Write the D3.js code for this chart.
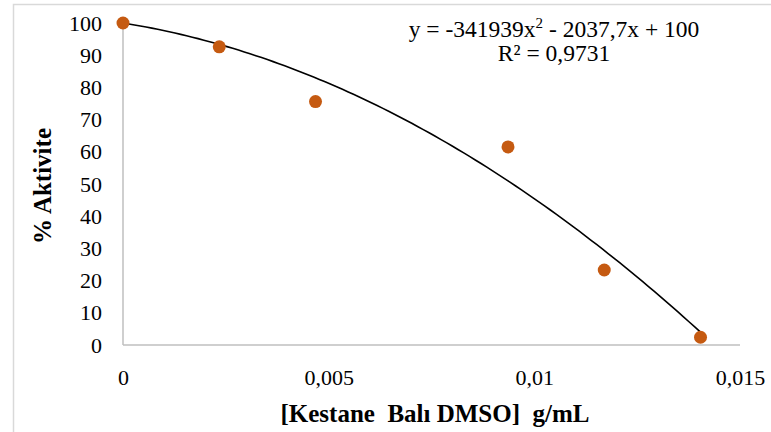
<!DOCTYPE html>
<html>
<head>
<meta charset="utf-8">
<script src="https://cdn.jsdelivr.net/npm/d3@7"></script>
<style>
  html, body { margin: 0; padding: 0; background: #fff; }
  svg { display: block; }
</style>
</head>
<body>
<svg id="chart" width="771" height="432"></svg>
<script>
// Data
const concentrations = [0, 0.00234, 0.00468, 0.00936, 0.0117, 0.01404];
const activity = [100, 92.6, 75.6, 61.5, 23.3, 2.4];
const xTicks = [0, 0.005, 0.01, 0.015];
const xTickLabels = ["0", "0,005", "0,01", "0,015"];
const yTicks = [0, 10, 20, 30, 40, 50, 60, 70, 80, 90, 100];
// Trendline (polynomial, order 2) coefficients shown on the chart: a2, a1, a0
const trendCoefs = [-341939, -2037.7, 100];
const xTitle = "[Kestane\u00A0 Balı DMSO]\u00A0 g/mL";
const yTitle = "% Aktivite";

const FONT = '"Liberation Serif", Tinos, "Times New Roman", "Nimbus Roman", FreeSerif, "DejaVu Serif", serif';

const svg = d3.select("#chart");
const W = 771, H = 432;

// outer chart border (light gray)
svg.append("path")
  .attr("d", `M13.5,${H} L13.5,4.5 L${W},4.5`)
  .attr("fill", "none").attr("stroke", "#d9d9d9").attr("stroke-width", 1.5);

const x = d3.scaleLinear().domain([0, 0.015]).range([123, 740]);
const y = d3.scaleLinear().domain([0, 100]).range([345, 23]);

// axes lines
svg.append("line").attr("x1", x(0)).attr("x2", x(0.015)).attr("y1", y(0)).attr("y2", y(0))
  .attr("stroke", "#bfbfbf").attr("stroke-width", 1.5);
svg.append("line").attr("x1", x(0)).attr("x2", x(0)).attr("y1", y(0)).attr("y2", y(100))
  .attr("stroke", "#bfbfbf").attr("stroke-width", 1.5);

// Y axis labels
const yAxis = d3.axisLeft(y).tickValues(yTicks).tickSize(0).tickPadding(21).tickFormat(d3.format("d"));
const gy = svg.append("g").attr("transform", `translate(${x(0)},0)`).call(yAxis);
gy.attr("font-family", null).attr("font-size", null);
gy.select(".domain").remove();
gy.selectAll("text").attr("font-family", FONT).attr("font-size", 22).attr("fill", "#000");

// X axis labels
const xAxis = d3.axisBottom(x).tickValues(xTicks).tickSize(0).tickPadding(24)
  .tickFormat((d, i) => xTickLabels[i]);
const gx = svg.append("g").attr("transform", `translate(0,${y(0)})`).call(xAxis);
gx.attr("font-family", null).attr("font-size", null);
gx.select(".domain").remove();
gx.selectAll("text").attr("font-family", FONT).attr("font-size", 22).attr("fill", "#000");

// Trendline
const xMax = d3.max(concentrations);
const trendX = d3.range(0, 101).map(i => xMax * i / 100);
const trendData = trendX.map(v => [v, trendCoefs[0] * v * v + trendCoefs[1] * v + trendCoefs[2]]);
svg.append("path").datum(trendData)
  .attr("d", d3.line().x(d => x(d[0])).y(d => y(d[1])))
  .attr("fill", "none").attr("stroke", "#000").attr("stroke-width", 1.6);

// Points
svg.selectAll("circle.pt").data(concentrations).join("circle")
  .attr("class", "pt")
  .attr("cx", d => x(d))
  .attr("cy", (d, i) => y(activity[i]))
  .attr("r", 6.5)
  .attr("fill", "#C55A11");

// Equation
const eq = svg.append("text").attr("x", 554).attr("y", 37).attr("text-anchor", "middle")
  .attr("font-family", FONT).attr("font-size", 23.5);
eq.append("tspan").text("y = -341939x");
eq.append("tspan").attr("dy", -9).attr("font-size", 15).text("2");
eq.append("tspan").attr("dy", 9).text(" - 2037,7x + 100");
svg.append("text").attr("x", 554).attr("y", 61).attr("text-anchor", "middle")
  .attr("font-family", FONT).attr("font-size", 23.5).text("R² = 0,9731");

// Axis titles
svg.append("text").attr("x", 435).attr("y", 422).attr("text-anchor", "middle")
  .attr("font-family", FONT).attr("font-size", 25).attr("font-weight", "bold").text(xTitle);
svg.append("text").attr("transform", "translate(51,186) rotate(-90)").attr("text-anchor", "middle")
  .attr("font-family", FONT).attr("font-size", 25).attr("font-weight", "bold").text(yTitle);
</script>
</body>
</html>
